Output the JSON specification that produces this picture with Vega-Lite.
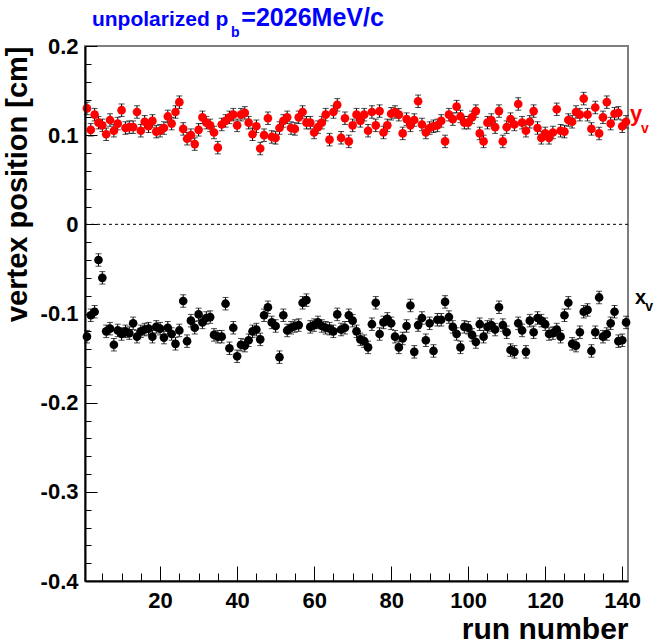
{
  "$schema": "https://vega.github.io/schema/vega-lite/v6.json",
  "width": 543,
  "height": 535,
  "autosize": "none",
  "padding": {"left": 85, "top": 46, "right": 30, "bottom": 62},
  "background": "white",
  "config": {
    "view": {"stroke": "#7f7f7f", "strokeWidth": 2},
    "font": "Liberation Sans",
    "axis": {"grid": false, "labelFont": "Liberation Sans", "titleFont": "Liberation Sans"}
  },
  "datasets": {
    "d": [
      {"r":1,"y":0.130,"x":-0.126,"e":0.007},{"r":2,"y":0.106,"x":-0.102,"e":0.007},{"r":3,"y":0.123,"x":-0.098,"e":0.007},{"r":4,"y":0.114,"x":-0.040,"e":0.007},{"r":5,"y":0.111,"x":-0.060,"e":0.007},
      {"r":6,"y":0.101,"x":-0.120,"e":0.007},{"r":7,"y":0.117,"x":-0.117,"e":0.007},{"r":8,"y":0.105,"x":-0.135,"e":0.007},{"r":9,"y":0.113,"x":-0.119,"e":0.007},{"r":10,"y":0.128,"x":-0.123,"e":0.007},
      {"r":11,"y":0.108,"x":-0.120,"e":0.007},{"r":12,"y":0.109,"x":-0.122,"e":0.007},{"r":13,"y":0.109,"x":-0.111,"e":0.007},{"r":14,"y":0.126,"x":-0.126,"e":0.007},{"r":15,"y":0.105,"x":-0.120,"e":0.007},
      {"r":16,"y":0.115,"x":-0.118,"e":0.007},{"r":17,"y":0.110,"x":-0.117,"e":0.007},{"r":18,"y":0.116,"x":-0.126,"e":0.007},{"r":19,"y":0.104,"x":-0.115,"e":0.007},{"r":20,"y":0.105,"x":-0.117,"e":0.007},
      {"r":21,"y":0.108,"x":-0.127,"e":0.007},{"r":22,"y":0.121,"x":-0.116,"e":0.007},{"r":23,"y":0.113,"x":-0.123,"e":0.007},{"r":24,"y":0.126,"x":-0.134,"e":0.007},{"r":25,"y":0.137,"x":-0.119,"e":0.007},
      {"r":26,"y":0.107,"x":-0.086,"e":0.007},{"r":27,"y":0.096,"x":-0.131,"e":0.007},{"r":28,"y":0.100,"x":-0.108,"e":0.007},{"r":29,"y":0.090,"x":-0.116,"e":0.007},{"r":30,"y":0.106,"x":-0.101,"e":0.007},
      {"r":31,"y":0.120,"x":-0.110,"e":0.007},{"r":32,"y":0.114,"x":-0.105,"e":0.007},{"r":33,"y":0.111,"x":-0.104,"e":0.007},{"r":34,"y":0.103,"x":-0.124,"e":0.007},{"r":35,"y":0.086,"x":-0.126,"e":0.007},
      {"r":36,"y":0.112,"x":-0.126,"e":0.007},{"r":37,"y":0.116,"x":-0.089,"e":0.007},{"r":38,"y":0.120,"x":-0.139,"e":0.007},{"r":39,"y":0.123,"x":-0.116,"e":0.007},{"r":40,"y":0.111,"x":-0.148,"e":0.007},
      {"r":41,"y":0.123,"x":-0.135,"e":0.007},{"r":42,"y":0.125,"x":-0.136,"e":0.007},{"r":43,"y":0.114,"x":-0.130,"e":0.007},{"r":44,"y":0.101,"x":-0.120,"e":0.007},{"r":45,"y":0.110,"x":-0.118,"e":0.007},
      {"r":46,"y":0.085,"x":-0.129,"e":0.007},{"r":47,"y":0.100,"x":-0.102,"e":0.007},{"r":48,"y":0.119,"x":-0.093,"e":0.007},{"r":49,"y":0.098,"x":-0.110,"e":0.007},{"r":50,"y":0.097,"x":-0.114,"e":0.007},
      {"r":51,"y":0.108,"x":-0.149,"e":0.007},{"r":52,"y":0.116,"x":-0.102,"e":0.007},{"r":53,"y":0.120,"x":-0.119,"e":0.007},{"r":54,"y":0.108,"x":-0.116,"e":0.007},{"r":55,"y":0.107,"x":-0.114,"e":0.007},
      {"r":56,"y":0.120,"x":-0.113,"e":0.007},{"r":57,"y":0.126,"x":-0.088,"e":0.007},{"r":58,"y":0.114,"x":-0.085,"e":0.007},{"r":59,"y":0.114,"x":-0.115,"e":0.007},{"r":60,"y":0.103,"x":-0.113,"e":0.007},
      {"r":61,"y":0.109,"x":-0.110,"e":0.007},{"r":62,"y":0.114,"x":-0.114,"e":0.007},{"r":63,"y":0.123,"x":-0.116,"e":0.007},{"r":64,"y":0.095,"x":-0.117,"e":0.007},{"r":65,"y":0.126,"x":-0.120,"e":0.007},
      {"r":66,"y":0.134,"x":-0.101,"e":0.007},{"r":67,"y":0.097,"x":-0.118,"e":0.007},{"r":68,"y":0.119,"x":-0.116,"e":0.007},{"r":69,"y":0.093,"x":-0.102,"e":0.007},{"r":70,"y":0.111,"x":-0.108,"e":0.007},
      {"r":71,"y":0.123,"x":-0.120,"e":0.007},{"r":72,"y":0.116,"x":-0.129,"e":0.007},{"r":73,"y":0.123,"x":-0.131,"e":0.007},{"r":74,"y":0.105,"x":-0.138,"e":0.007},{"r":75,"y":0.126,"x":-0.112,"e":0.007},
      {"r":76,"y":0.111,"x":-0.088,"e":0.007},{"r":77,"y":0.127,"x":-0.123,"e":0.007},{"r":78,"y":0.103,"x":-0.110,"e":0.007},{"r":79,"y":0.111,"x":-0.106,"e":0.007},{"r":80,"y":0.124,"x":-0.111,"e":0.007},
      {"r":81,"y":0.126,"x":-0.126,"e":0.007},{"r":82,"y":0.123,"x":-0.138,"e":0.007},{"r":83,"y":0.102,"x":-0.128,"e":0.007},{"r":84,"y":0.118,"x":-0.114,"e":0.007},{"r":85,"y":0.111,"x":-0.091,"e":0.007},
      {"r":86,"y":0.117,"x":-0.143,"e":0.007},{"r":87,"y":0.138,"x":-0.113,"e":0.007},{"r":88,"y":0.112,"x":-0.105,"e":0.007},{"r":89,"y":0.103,"x":-0.130,"e":0.007},{"r":90,"y":0.108,"x":-0.111,"e":0.007},
      {"r":91,"y":0.110,"x":-0.142,"e":0.007},{"r":92,"y":0.111,"x":-0.107,"e":0.007},{"r":93,"y":0.116,"x":-0.107,"e":0.007},{"r":94,"y":0.093,"x":-0.087,"e":0.007},{"r":95,"y":0.123,"x":-0.104,"e":0.007},
      {"r":96,"y":0.118,"x":-0.115,"e":0.007},{"r":97,"y":0.132,"x":-0.123,"e":0.007},{"r":98,"y":0.121,"x":-0.138,"e":0.007},{"r":99,"y":0.114,"x":-0.115,"e":0.007},{"r":100,"y":0.114,"x":-0.116,"e":0.007},
      {"r":101,"y":0.120,"x":-0.124,"e":0.007},{"r":102,"y":0.127,"x":-0.132,"e":0.007},{"r":103,"y":0.102,"x":-0.112,"e":0.007},{"r":104,"y":0.093,"x":-0.126,"e":0.007},{"r":105,"y":0.114,"x":-0.115,"e":0.007},
      {"r":106,"y":0.117,"x":-0.113,"e":0.007},{"r":107,"y":0.109,"x":-0.118,"e":0.007},{"r":108,"y":0.127,"x":-0.093,"e":0.007},{"r":109,"y":0.093,"x":-0.113,"e":0.007},{"r":110,"y":0.109,"x":-0.121,"e":0.007},
      {"r":111,"y":0.118,"x":-0.141,"e":0.007},{"r":112,"y":0.112,"x":-0.143,"e":0.007},{"r":113,"y":0.135,"x":-0.111,"e":0.007},{"r":114,"y":0.114,"x":-0.119,"e":0.007},{"r":115,"y":0.105,"x":-0.143,"e":0.007},
      {"r":116,"y":0.115,"x":-0.108,"e":0.007},{"r":117,"y":0.127,"x":-0.121,"e":0.007},{"r":118,"y":0.108,"x":-0.105,"e":0.007},{"r":119,"y":0.097,"x":-0.108,"e":0.007},{"r":120,"y":0.102,"x":-0.112,"e":0.007},
      {"r":121,"y":0.097,"x":-0.123,"e":0.007},{"r":122,"y":0.103,"x":-0.122,"e":0.007},{"r":123,"y":0.129,"x":-0.118,"e":0.007},{"r":124,"y":0.105,"x":-0.126,"e":0.007},{"r":125,"y":0.104,"x":-0.102,"e":0.007},
      {"r":126,"y":0.117,"x":-0.088,"e":0.007},{"r":127,"y":0.115,"x":-0.134,"e":0.007},{"r":128,"y":0.126,"x":-0.136,"e":0.007},{"r":129,"y":0.123,"x":-0.121,"e":0.007},{"r":130,"y":0.141,"x":-0.098,"e":0.007},
      {"r":131,"y":0.123,"x":-0.096,"e":0.007},{"r":132,"y":0.107,"x":-0.142,"e":0.007},{"r":133,"y":0.131,"x":-0.121,"e":0.007},{"r":134,"y":0.102,"x":-0.082,"e":0.007},{"r":135,"y":0.120,"x":-0.126,"e":0.007},
      {"r":136,"y":0.137,"x":-0.123,"e":0.007},{"r":137,"y":0.113,"x":-0.111,"e":0.007},{"r":138,"y":0.124,"x":-0.098,"e":0.007},{"r":139,"y":0.125,"x":-0.131,"e":0.007},{"r":140,"y":0.110,"x":-0.130,"e":0.007},
      {"r":141,"y":0.115,"x":-0.110,"e":0.007}
    ],
    "labels": [
      {"t":"unpolarized p","px":2.3,"py":0.2225,"g":"title","s":21},
      {"t":"b","px":38.4,"py":0.2105,"g":"title","s":14},
      {"t":"=2026MeV/c","px":41.1,"py":0.2225,"g":"title","s":25}, 
      {"t":"y","px":142.0,"py":0.1155,"g":"red","s":22},
      {"t":"v","px":144.9,"py":0.1025,"g":"red","s":14},
      {"t":"x","px":143.3,"py":-0.0895,"g":"black","s":20},
      {"t":"v","px":146.0,"py":-0.0975,"g":"black","s":14}
    ]
  },
  "data": {"name": "d"},
  "resolve": {"axis": {"x": "independent", "y": "independent"}},
  "layer": [
    {
      "data": {"values": [{"z": 0}]},
      "mark": {"type": "rule", "strokeDash": [3, 3], "color": "black", "strokeWidth": 1},
      "encoding": {
        "y": {"field": "z", "type": "quantitative", "scale": {"domain": [-0.4, 0.2], "nice": false, "zero": false}, "axis": null}
      }
    },
    {
      "mark": {"type": "errorbar", "ticks": {"color": "black", "size": 6}, "rule": {"color": "black", "strokeWidth": 1}},
      "encoding": {
        "x": {"field": "r", "type": "quantitative", "scale": {"domain": [0.5, 141.5], "nice": false, "zero": false}, "axis": null},
        "y": {"field": "y", "type": "quantitative", "scale": {"domain": [-0.4, 0.2], "nice": false, "zero": false}, "axis": null},
        "yError": {"field": "e"}
      }
    },
    {
      "mark": {"type": "errorbar", "ticks": {"color": "black", "size": 6}, "rule": {"color": "black", "strokeWidth": 1}},
      "encoding": {
        "x": {"field": "r", "type": "quantitative", "scale": {"domain": [0.5, 141.5], "nice": false, "zero": false}, "axis": null},
        "y": {"field": "x", "type": "quantitative", "scale": {"domain": [-0.4, 0.2], "nice": false, "zero": false}, "axis": null},
        "yError": {"field": "e"}
      }
    },
    {
      "mark": {"type": "point", "filled": true, "shape": "circle", "size": 75, "color": "#ff0000", "opacity": 1},
      "encoding": {
        "x": {"field": "r", "type": "quantitative", "scale": {"domain": [0.5, 141.5], "nice": false, "zero": false},
          "axis": {"values": [20, 40, 60, 80, 100, 120, 140], "tickSize": -15, "tickColor": "black", "tickWidth": 1,
            "domainColor": "black", "domainWidth": 2, "labelFontSize": 22, "labelFontWeight": "bold", "labelColor": "black",
            "labelPadding": 24, "labelFlush": false, "title": "run number", "titleFontSize": 30, "titleFontWeight": "bold",
            "titleColor": "black", "titleAnchor": "end", "titlePadding": 3, "zindex": 1}},
        "y": {"field": "y", "type": "quantitative", "scale": {"domain": [-0.4, 0.2], "nice": false, "zero": false},
          "axis": {"values": [-0.4, -0.3, -0.2, -0.1, 0, 0.1, 0.2], "tickSize": -12, "tickColor": "black", "tickWidth": 1,
            "domainColor": "black", "domainWidth": 2, "labelFontSize": 22, "labelFontWeight": "bold", "labelColor": "black",
            "labelPadding": 19, "labelFlush": false, "labelExpr": "datum.value == 0 ? '0' : replace(datum.label, '\u2212', '-')",
            "title": "vertex position [cm]", "titleFontSize": 29, "titleFontWeight": "bold",
            "titleColor": "black", "titleAnchor": "end", "titlePadding": 8, "zindex": 1}}
      }
    },
    {
      "mark": {"type": "point", "filled": true, "shape": "circle", "size": 75, "color": "#000000", "opacity": 1},
      "encoding": {
        "x": {"field": "r", "type": "quantitative", "scale": {"domain": [0.5, 141.5], "nice": false, "zero": false},
          "axis": {"orient": "bottom", "values": [5, 10, 15, 25, 30, 35, 45, 50, 55, 65, 70, 75, 85, 90, 95, 105, 110, 115, 125, 130, 135],
            "tickSize": -8, "tickColor": "black", "tickWidth": 1, "domain": false, "labels": false, "title": null, "zindex": 1}},
        "y": {"field": "x", "type": "quantitative", "scale": {"domain": [-0.4, 0.2], "nice": false, "zero": false},
          "axis": {"orient": "left", "values": [-0.38, -0.36, -0.34, -0.32, -0.28, -0.26, -0.24, -0.22, -0.18, -0.16, -0.14, -0.12, -0.08, -0.06, -0.04, -0.02, 0.02, 0.04, 0.06, 0.08, 0.12, 0.14, 0.16, 0.18],
            "tickSize": -6, "tickColor": "black", "tickWidth": 1, "domain": false, "labels": false, "title": null, "zindex": 1}}
      }
    },
    {
      "data": {"name": "labels"},
      "mark": {"type": "text", "align": "left", "baseline": "alphabetic", "fontWeight": "bold", "font": "Liberation Sans"},
      "encoding": {
        "x": {"field": "px", "type": "quantitative", "scale": {"domain": [0.5, 141.5], "nice": false, "zero": false}, "axis": null},
        "y": {"field": "py", "type": "quantitative", "scale": {"domain": [-0.4, 0.2], "nice": false, "zero": false}, "axis": null},
        "text": {"field": "t"},
        "size": {"field": "s", "type": "quantitative", "scale": null},
        "color": {"field": "g", "type": "nominal", "scale": {"domain": ["title", "red", "black"], "range": ["#0000ff", "#ff0000", "#000000"]}, "legend": null}
      }
    }
  ]
}
